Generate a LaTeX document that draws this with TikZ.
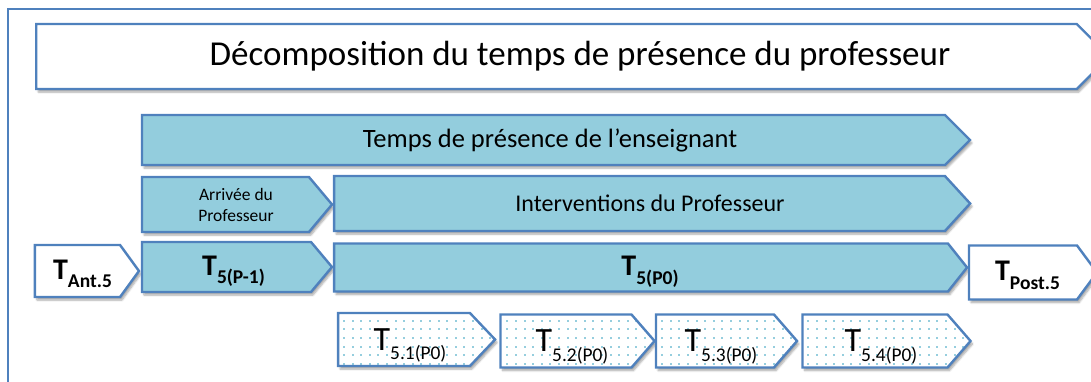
\documentclass[tikz,border=0pt]{standalone}
\usepackage{fontspec}
\setmainfont{Carlito}
\usetikzlibrary{shapes.symbols, shadows.blur, patterns.meta}
\definecolor{cadre bleu}{RGB}{79,129,189}
\definecolor{fond bleu}{RGB}{147,205,221}
\definecolor{point bleu}{RGB}{150,206,222}
\tikzdeclarepattern{name=petits points, type=uncolored,
  bounding box={(-4.3pt,-4.3pt) and (4.3pt,4.3pt)}, tile size={(8.6pt,8.6pt)},
  code={\fill (-1pt,-1pt) rectangle (1pt,1pt);}}
\newcommand{\indice}[2][0.65]{\raisebox{-0.28em}{\scalebox{#1}{#2}}}

\begin{document}
\begin{tikzpicture}[x=1pt, y=-1pt,
    fleche/.style={shape=signal, signal to=east, signal pointer angle=#1, draw=cadre bleu, line width=2.4pt, inner sep=0pt,
      blur shadow={shadow xshift=2pt, shadow yshift=-3pt, shadow blur steps=6, shadow opacity=35}},
    fleche/.default=100,
    pleine/.style={fleche=#1, fill=fond bleu},
    pleine/.default=100,
    vide/.style={fleche=#1, fill=white},
    vide/.default=100,
    pointee/.style={fleche=#1, preaction={fill=white}, pattern={petits points}, pattern color=point bleu},
    pointee/.default=98,
    decale/.style={execute at begin node={\hspace*{#1}}},
    grand T/.style={font=\fontsize{30}{34}\selectfont\bfseries, text depth=3pt},
    petit T/.style={font=\fontsize{34}{38}\selectfont, decale=12pt, text depth=0pt, minimum height=53}]
  \useasboundingbox (0,0) rectangle (1091,381);
  % cadre
  \draw[cadre bleu, line width=1.2pt] (8,400) -- (8,9) -- (1100,9);
  % titre
  \node[vide=90, minimum width=1073, minimum height=65, decale=47pt, font=\fontsize{35}{40}\selectfont] (titre) at (556.5,56.5) {Décomposition du temps de présence du professeur};
  % niveaux
  \node[pleine=90, minimum width=828, minimum height=50, decale=13pt, font=\fontsize{26.5}{30}\selectfont] (presence) at (543.5,140) {Temps de présence de l’enseignant};
  \node[pleine, minimum width=190, minimum height=55, align=center, font=\fontsize{17.5}{21}\selectfont] (arrivee) at (225.5,204.5) {\hspace*{21pt}Arrivée du\\\hspace*{21pt}Professeur};
  \node[pleine=95, minimum width=636, minimum height=55, decale=21pt, font=\fontsize{24}{28}\selectfont] (interv) at (639.5,203.5) {Interventions du Professeur};
  % temps
  \node[vide=108, minimum width=104, minimum height=52, decale=10pt, grand T] (tant) at (77.5,271) {T\indice{Ant.5}};
  \node[pleine, minimum width=190, minimum height=50, decale=14pt, grand T] (tpm) at (226.5,267) {T\indice{5(P-1)}};
  \node[pleine=103, minimum width=633, minimum height=48, decale=18pt, grand T] (tpz) at (641,267.5) {T\indice{5(P0)}};
  \node[vide=107, minimum width=128, minimum height=54, decale=9pt, grand T] (tpost) at (1023,272.5) {T\indice{Post.5}};
  % sous-temps
  \node[pointee=93, minimum width=157, petit T] (ta) at (404,339.5) {T\indice[0.57]{5.1(P0)}};
  \node[pointee, minimum width=154, petit T] (tb) at (566,341) {T\indice[0.57]{5.2(P0)}};
  \node[pointee, minimum width=141, petit T] (tc) at (715,341) {T\indice[0.57]{5.3(P0)}};
  \node[pointee, minimum width=168, petit T] (td) at (875,341) {T\indice[0.57]{5.4(P0)}};
\end{tikzpicture}
\end{document}
